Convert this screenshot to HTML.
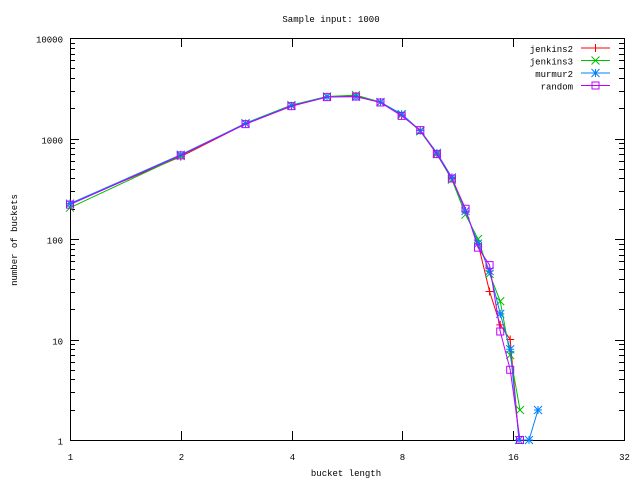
<!DOCTYPE html>
<html><head><style>
html,body{margin:0;padding:0;background:#fff;}
svg text{font-family:"Liberation Mono","DejaVu Sans Mono",monospace;font-size:9px;fill:#000;}
</style></head><body>
<svg id="s" width="640" height="480" xmlns="http://www.w3.org/2000/svg">
<rect width="640" height="480" fill="#fff"/>
<text x="331" y="22" text-anchor="middle">Sample input: 1000</text>
<text x="346" y="476" text-anchor="middle">bucket length</text>
<text transform="translate(17,240) rotate(-90)" text-anchor="middle">number of buckets</text>
<g id="axes" stroke="#000" stroke-width="1" fill="none"></g>
<g id="lab"></g>
<g id="data" fill="none" stroke-width="1"></g>
</svg>
<script>
var L=70,R=624,T=38,B=440,NS="http://www.w3.org/2000/svg";
function X(v){return L+(R-L)*Math.log2(v)/5;}
function Y(v){return B-(B-T)*Math.log10(v)/4;}
var ax=document.getElementById('axes'),lab=document.getElementById('lab'),dg=document.getElementById('data');
function el(p,tag,a,txt){var e=document.createElementNS(NS,tag);for(var k in a)e.setAttribute(k,a[k]);if(txt)e.textContent=txt;p.appendChild(e);return e;}
el(ax,'rect',{x:L+0.5,y:T+0.5,width:R-L,height:B-T});
var d='';
[1,2,4,8,16,32].forEach(function(v){var x=Math.round(X(v))+0.5;d+='M'+x+' '+B+'v-9M'+x+' '+T+'v9';
el(lab,'text',{x:x,y:B+20,'text-anchor':'middle'},String(v));});
for(var e=0;e<=4;e++){var y=Math.round(Y(Math.pow(10,e)))+0.5;d+='M'+L+' '+y+'h9M'+R+' '+y+'h-9';
el(lab,'text',{x:L-7,y:y+4,'text-anchor':'end'},String(Math.pow(10,e)));
if(e<4)for(var m=2;m<10;m++){var yy=Math.round(Y(m*Math.pow(10,e)))+0.5;d+='M'+L+' '+yy+'h5M'+R+' '+yy+'h-5';}}
el(ax,'path',{d:d});
var xs=[1,2,3,4,5,6,7,8,9,10,11,12,13,14,15,16];
var S=[
{n:'jenkins2',c:'#ff0000',m:'+',v:[225,660,1400,2100,2600,2650,2300,1700,1200,700,400,190,90,30,14,10],t:[[519,440]]},
{n:'jenkins3',c:'#00c000',m:'x',v:[205,670,1420,2150,2620,2700,2300,1720,1180,700,390,175,100,45,24,7],t:[[520,410]]},
{n:'murmur2',c:'#0080ff',m:'*',v:[225,690,1410,2120,2600,2600,2300,1750,1200,720,410,190,90,48,18,8],t:[[519,440],[529,440],[538,410]]},
{n:'random',c:'#c000ff',m:'s',v:[220,680,1390,2100,2580,2620,2280,1680,1210,700,400,200,82,55,12,5],t:[[520,440]]}];
function mk(g,m,x,y,c){var p;
if(m=='+')p='M'+(x-4)+' '+y+'h8M'+x+' '+(y-4)+'v8';
else if(m=='x')p='M'+(x-4)+' '+(y-4)+'l8 8M'+(x-4)+' '+(y+4)+'l8 -8';
else if(m=='*')p='M'+(x-4)+' '+y+'h8M'+x+' '+(y-4)+'v8M'+(x-4)+' '+(y-4)+'l8 8M'+(x-4)+' '+(y+4)+'l8 -8';
else p='M'+(x-3.5)+' '+(y-3.5)+'h7v7h-7z';
el(g,'path',{d:p,stroke:c});}
S.forEach(function(s,i){var pts=xs.map(function(x,j){return [X(x)-3*(x/16)*(x/16),Y(s.v[j])];}).concat(s.t);
el(dg,'polyline',{points:pts.map(function(p){return p.join(',');}).join(' '),stroke:s.c});
pts.forEach(function(p){mk(dg,s.m,p[0],p[1],s.c);});
var ly=48+i*12.5;
el(lab,'text',{x:573,y:ly+4,'text-anchor':'end'},s.n);
el(dg,'path',{d:'M581 '+ly+'h29',stroke:s.c});mk(dg,s.m,595.5,ly,s.c);});
</script>
</body></html>
